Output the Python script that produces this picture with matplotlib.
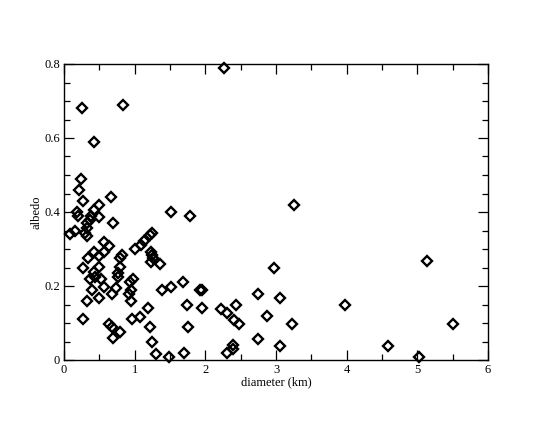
import matplotlib
matplotlib.use("Agg")
import matplotlib.pyplot as plt
from matplotlib.ticker import MultipleLocator

diameter = [2.26, 0.26, 0.84, 0.43, 0.24, 0.21, 0.27, 0.66, 0.49, 0.42,
            0.18, 1.52, 1.79, 3.26, 0.20, 0.38, 0.50, 0.32, 0.37, 0.70,
            0.32, 0.16, 0.08, 0.30, 0.32, 0.56, 0.64, 1.00, 0.42, 0.56,
            0.49, 0.34, 0.82, 0.79, 0.27, 0.50, 0.42, 0.79, 0.77, 0.44,
            0.37, 0.52, 0.76, 0.93, 0.40, 0.56, 0.74, 0.95, 0.68, 0.33,
            0.50, 0.95, 0.27, 0.63, 0.68, 0.79, 0.70, 0.96, 0.98, 1.39,
            1.51, 1.69, 1.93, 1.95, 1.74, 1.95, 1.19, 1.07, 1.22, 1.75,
            1.24, 1.30, 1.48, 1.70, 2.75, 3.06, 2.22, 2.31, 2.44, 2.41,
            2.48, 2.87, 3.23, 2.75, 3.06, 2.39, 2.39, 2.31, 2.97, 3.97,
            5.13, 4.58, 5.02, 5.50, 1.24, 1.22, 1.13, 1.09, 1.23, 1.24,
            1.26, 1.23, 1.36, 0.92]
albedo = [0.79, 0.68, 0.69, 0.59, 0.49, 0.46, 0.43, 0.44, 0.42, 0.405,
          0.40, 0.40, 0.39, 0.42, 0.39, 0.39, 0.387, 0.37, 0.378, 0.37,
          0.358, 0.35, 0.34, 0.342, 0.336, 0.32, 0.309, 0.30, 0.293, 0.291,
          0.28, 0.275, 0.284, 0.275, 0.25, 0.252, 0.237, 0.252, 0.234, 0.225,
          0.219, 0.219, 0.225, 0.21, 0.19, 0.198, 0.194, 0.19, 0.178, 0.16,
          0.168, 0.16, 0.11, 0.096, 0.088, 0.077, 0.06, 0.11, 0.22, 0.189,
          0.197, 0.21, 0.19, 0.19, 0.149, 0.14, 0.14, 0.117, 0.09, 0.088,
          0.048, 0.017, 0.009, 0.018, 0.178, 0.168, 0.138, 0.128, 0.149, 0.108,
          0.098, 0.119, 0.098, 0.058, 0.038, 0.04, 0.03, 0.018, 0.248, 0.148,
          0.268, 0.038, 0.008, 0.097, 0.342, 0.338, 0.322, 0.311, 0.291, 0.284,
          0.277, 0.266, 0.259, 0.178]

x_ticks = [0, 1, 2, 3, 4, 5, 6]
x_tick_labels = ["0", "1", "2", "3", "4", "5", "6"]
y_ticks = [0, 0.2, 0.4, 0.6, 0.8]
y_tick_labels = ["0", "0.2", "0.4", "0.6", "0.8"]

plt.rcParams['font.family'] = ['Liberation Serif', 'DejaVu Serif']

fig = plt.figure(figsize=(5.5, 4.25), dpi=100)
ax = fig.add_axes([64/550, 1-360/425, (488-64)/550, (360-64)/425])

ax.plot(diameter, albedo, linestyle='none', marker='D', markersize=5.4,
        markerfacecolor='none', markeredgecolor='black', markeredgewidth=1.7,
        clip_on=False)

ax.set_xlim(0, 6)
ax.set_ylim(0, 0.8)
ax.set_xticks(x_ticks)
ax.set_xticklabels(x_tick_labels)
ax.set_yticks(y_ticks)
ax.set_yticklabels(y_tick_labels)
ax.xaxis.set_minor_locator(MultipleLocator(0.5))
ax.yaxis.set_minor_locator(MultipleLocator(0.05))
ax.tick_params(which='both', direction='in', top=True, right=True, labelsize=9, width=0.9)
ax.tick_params(which='major', length=7, pad=3)
ax.tick_params(which='minor', length=4)
for s in ax.spines.values():
    s.set_linewidth(1.0)

ax.set_xlabel("diameter (km)", fontsize=9)
ax.set_ylabel("albedo", fontsize=9)
ax.xaxis.set_label_coords(0.5, -0.055)
ax.yaxis.set_label_coords(-0.05, 0.5)

fig.savefig("out.png", dpi=100)
